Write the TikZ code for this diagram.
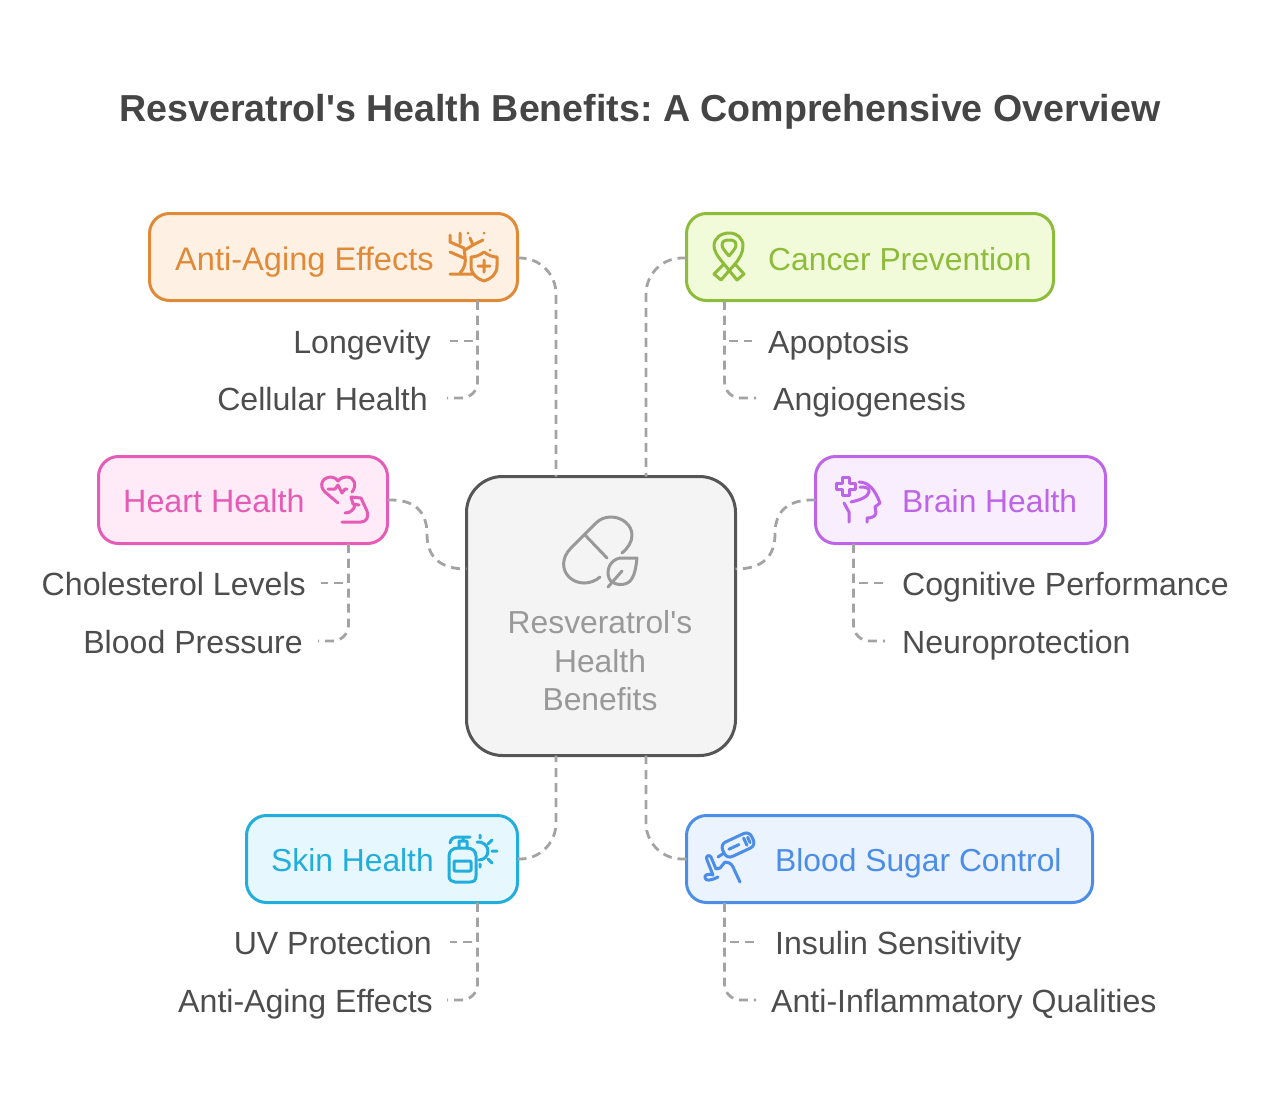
\documentclass[tikz,border=0pt]{standalone}
\usepackage{fontspec}
\setmainfont{Liberation Sans}[Ligatures=TeXOff]
\usetikzlibrary{calc}
\definecolor{orangeline}{HTML}{E08A38}\definecolor{orangefill}{HTML}{FEF1E4}
\definecolor{greenline}{HTML}{8DBB3A}\definecolor{greenfill}{HTML}{F2FBD9}
\definecolor{pinkline}{HTML}{E55BB5}\definecolor{pinkfill}{HTML}{FEEBF7}
\definecolor{purpleline}{HTML}{BE64E8}\definecolor{purplefill}{HTML}{F9EEFE}
\definecolor{cyanline}{HTML}{22AEDD}\definecolor{cyanfill}{HTML}{E6F8FE}
\definecolor{blueline}{HTML}{4C8DE8}\definecolor{bluefill}{HTML}{EBF3FF}
\definecolor{hubline}{HTML}{555555}\definecolor{hubfill}{HTML}{F4F4F4}
\definecolor{hubtext}{HTML}{999999}\definecolor{labeltext}{HTML}{4D4D4D}
\definecolor{linkgray}{HTML}{A3A3A3}
\tikzset{
  box/.style={draw=#1line,fill=#1fill,line width=3pt,rounded corners=20pt,inner sep=0pt,outer sep=0pt,anchor=north west},
  boxtext/.style={text=#1line,anchor=west,inner sep=0pt,text height=24pt,text depth=0pt,font=\fontsize{31.8}{38}\selectfont},
  sublabel/.style={text=labeltext,inner ysep=0pt,text height=24pt,text depth=0pt},
  link/.style={draw=linkgray,line width=2.8pt,dash pattern=on 9pt off 6pt},
  icon/.style={draw=#1,line width=3pt,line cap=round,line join=round},
}
\begin{document}
\begin{tikzpicture}[x=1pt,y=-1pt,every node/.style={font=\fontsize{32.1}{38}\selectfont}]
\useasboundingbox (0,0) rectangle (1280,1096);
\node[font=\fontsize{37.6}{46}\selectfont\bfseries,text=labeltext!90!black,inner sep=0pt] (title) at (640,112){\frenchspacing Resveratrol's Health Benefits: A Comprehensive Overview};
\node[box=hub,rounded corners=36pt,minimum width=269pt,minimum height=279pt] (hub) at (466.5,476.5){};
\foreach \nm/\x/\y/\w/\col in {antiaging/149.5/213.5/368/orange,cancer/686.5/213.5/367/green,heart/98.5/456.5/289/pink,brain/815.5/456.5/290/purple,skin/246.5/815.5/271/cyan,blood/686.5/815.5/406/blue}{
\node[box=\col,minimum width=\w pt,minimum height=87pt] (\nm) at (\x,\y){};}
\node[boxtext=orange,font=\fontsize{32.6}{38}\selectfont] (antiagingtext) at (175,258){Anti-Aging Effects};
\node[boxtext=green] (cancertext) at (768,258){Cancer Prevention};
\node[boxtext=pink,font=\fontsize{32.3}{38}\selectfont] (hearttext) at (123,500){Heart Health};
\node[boxtext=purple] (braintext) at (902,500){Brain Health};
\node[boxtext=cyan] (skintext) at (271,859){Skin Health};
\node[boxtext=blue] (bloodtext) at (775,859){Blood Sugar Control};
\node[text=hubtext,align=center,inner sep=0pt,font=\fontsize{31.8}{38.6}\selectfont] (hubtext) at (600,661){Resveratrol's\\Health\\Benefits};
\foreach \nm/\x/\y/\gap/\txt in {longevity/450/341/19/Longevity,cellular/447/398/19/Cellular Health,cholesterol/321/583/15/Cholesterol Levels,pressure/318/641/15/Blood Pressure,uv/450/942/18/UV Protection,antiagingskin/447/1000/14/Anti-Aging Effects}{
\node[sublabel,anchor=east,inner xsep=\gap pt] (\nm) at (\x,\y){\txt};}
\foreach \nm/\x/\y/\gap/\txt in {apoptosis/752/341/16/Apoptosis,angiogenesis/756/398/17/Angiogenesis,cognitive/883/583/19/Cognitive Performance,neuro/885/641/17/Neuroprotection,insulin/754/942/21/Insulin Sensitivity,inflammatory/756/1000/15/Anti-Inflammatory Qualities}{
\node[sublabel,anchor=west,inner xsep=\gap pt] (\nm) at (\x,\y){\txt};}
\foreach \head/\upper/\lower/\off in {antiaging/longevity/cellular/-40,heart/cholesterol/pressure/-39,skin/uv/antiagingskin/-40}{
\draw[link] ($(\head.south east)+(\off,0)$) |- (\upper.east);
\draw[link,rounded corners=16pt] ($(\head.south east)+(\off,0)$) |- (\lower.east);}
\foreach \head/\upper/\lower/\off in {cancer/apoptosis/angiogenesis/38,brain/cognitive/neuro/38,blood/insulin/inflammatory/38}{
\draw[link] ($(\head.south west)+(\off,0)$) |- (\upper.west);
\draw[link,rounded corners=16pt] ($(\head.south west)+(\off,0)$) |- (\lower.west);}
\coordinate (hubtopl) at ($(hub.north west)+(89.5,0)$);\coordinate (hubtopr) at ($(hub.north west)+(179.5,0)$);
\coordinate (hubbotl) at ($(hub.south west)+(89.5,0)$);\coordinate (hubbotr) at ($(hub.south west)+(179.5,0)$);
\coordinate (hubleft) at ($(hub.west)+(0,-47)$);\coordinate (hubright) at ($(hub.east)+(0,-47)$);
\draw[link,rounded corners=36pt] ($(antiaging.east)+(0,1)$) -| (hubtopl);
\draw[link,rounded corners=36pt] ($(cancer.west)+(0,1)$) -| (hubtopr);
\draw[link,rounded corners=36pt] (skin.east) -| (hubbotl);
\draw[link,rounded corners=36pt] (blood.west) -| (hubbotr);
\draw[link] (heart.east) .. controls (414,499) and (427,511) .. (427,534) .. controls (427,557) and (440,569) .. (hubleft);
\draw[link] (brain.west) .. controls (788,499) and (775,511) .. (775,534) .. controls (775,557) and (762,569) .. (hubright);
\draw[icon=hubtext] (622,553) .. controls (628,548) and (632,542) .. (632,535) .. controls (632,525) and (622,517) .. (611,517) .. controls (605,517) and (600,519) .. (596,523) -- (571,548) .. controls (561,558) and (562,570) .. (569,577) .. controls (577,585) and (591,585) .. (600,577);
\draw[icon=hubtext] (585,535) -- (607,558);
\draw[icon=hubtext] (637,558) -- (620,558) .. controls (610,560) and (606,570) .. (609,578) .. controls (611,584) and (622,587) .. (629,582) .. controls (635,577) and (636,566) .. (637,558) -- cycle;
\draw[icon=hubtext] (608,587) -- (622,571);
\draw[icon=orangeline] (450,274) -- (473,274) (460,273) .. controls (465,268) and (466,262) .. (465,256) -- (464,248) -- (450,242) -- (450,235) (460,233) -- (460,243) (450,252) -- (464,258) (465,250) -- (473,245) -- (470,238) (473,245) -- (483,240) (468,233) -- (468,233) (490,250) -- (490,250) (484,233) -- (484,233);
\draw[icon=orangeline] (484,252) .. controls (488,255) and (492,257) .. (497,257) -- (497,266) .. controls (497,274) and (491,279) .. (484,281) .. controls (477,279) and (471,274) .. (471,266) -- (471,257) .. controls (476,257) and (480,255) .. (484,252) -- cycle (484,260) -- (484,272) (478,266) -- (490,266);
\draw[icon=greenline] (724,264) .. controls (718,257) and (714,251) .. (714,246) .. controls (714,238) and (721,233) .. (729,233) .. controls (737,233) and (743,238) .. (743,246) .. controls (743,252) and (740,258) .. (735,264) -- (744,274) -- (737,280) -- (724,264) (735,264) -- (721,280) -- (714,274) -- (724,264);
\draw[icon=greenline] (729,256) .. controls (725,251) and (722,248) .. (722,245) .. controls (722,241) and (725,240) .. (729,240) .. controls (733,240) and (736,241) .. (736,245) .. controls (736,248) and (733,251) .. (729,256);
\draw[icon=pinkline] (338,503) -- (325,492) .. controls (318,485) and (323,477) .. (331,477) .. controls (334,477) and (337,479) .. (338,481) .. controls (340,478) and (344,477) .. (347,477) .. controls (355,477) and (357,486) .. (352,492);
\draw[icon=pinkline] (328,489) -- (335,489) -- (338,485) -- (342,493) -- (345,489) -- (347,489);
\draw[icon=pinkline] (342,522) -- (361,522) .. controls (367,522) and (369,516) .. (367,511) -- (361,498) -- (351,497) -- (353,504) -- (359,505) (355,505) .. controls (354,510) and (350,513) .. (345,513);
\draw[icon=purpleline] (842,477) -- (849,477) -- (849,483) -- (855,483) -- (855,489) -- (849,489) -- (849,495) -- (842,495) -- (842,489) -- (836,489) -- (836,483) -- (842,483) -- cycle;
\draw[icon=purpleline] (859,482) .. controls (869,482) and (875,490) .. (880,503) -- (875,507) -- (876,513) .. controls (875,517) and (871,518) .. (867,518) -- (867,522);
\draw[icon=purpleline] (844,503) -- (849,512) -- (849,522) (851,502) .. controls (860,500) and (868,497) .. (869,492) .. controls (870,488) and (866,487) .. (860,487);
\draw[icon=cyanline] (458,848) .. controls (452,848) and (449,852) .. (449,856) -- (449,876) .. controls (449,880) and (452,882) .. (455,882) -- (470,882) .. controls (474,882) and (476,880) .. (476,876) -- (476,856) .. controls (476,851) and (472,848) .. (467,848) -- cycle;
\draw[icon=cyanline,rounded corners=1pt] (454,861) rectangle (471,871);
\draw[icon=cyanline] (459,848) -- (459,841) -- (467,841) -- (467,848) (450,843) .. controls (451,839) and (453,837) .. (456,837) -- (470,837) (463,837) -- (463,841);
\draw[icon=cyanline] (477,842) .. controls (483,841) and (488,846) .. (488,851) .. controls (488,856) and (484,860) .. (479,860);
\draw[icon=cyanline] (480,835) -- (480,838) (492,840) -- (488,844) (497,851) -- (492,851) (492,863) -- (488,859) (480,867) -- (480,864);
\draw[icon=blueline,rotate around={25:(738,845)},rounded corners=6pt] (722,837) rectangle (754,853);
\draw[icon=blueline,rotate around={25:(738,845)}] (728,845) -- (739,845) (746,841) -- (746,849) (750,842) -- (750,848);
\draw[icon=blueline] (718,857) -- (724,853);
\draw[icon=blueline] (740,882) -- (733,867) .. controls (731,863) and (728,862) .. (725,862) -- (720,868) -- (716,869) -- (711,857) .. controls (709,854) and (705,856) .. (707,860) -- (713,875) (713,875) .. controls (708,873) and (704,875) .. (705,878) .. controls (706,881) and (710,881) .. (718,877);
\end{tikzpicture}
\end{document}
